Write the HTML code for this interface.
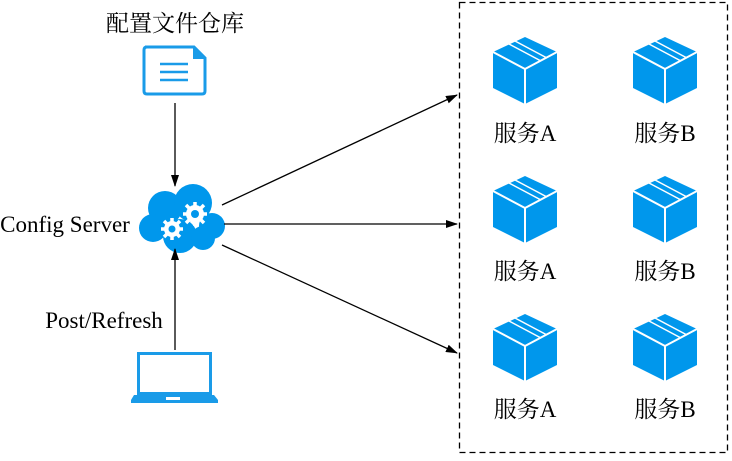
<!DOCTYPE html>
<html><head><meta charset="utf-8"><style>
body{margin:0;background:#fff}
svg text{font-family:"Liberation Serif","Noto Serif CJK SC",serif;font-size:23px;fill:#000}
</style></head><body>
<svg width="732" height="456" viewBox="0 0 732 456" xmlns="http://www.w3.org/2000/svg">
<defs>
<marker id="a" markerWidth="12" markerHeight="8" refX="11" refY="4" orient="auto" markerUnits="userSpaceOnUse"><path d="M0,0L12,4L0,8z" fill="#000"/></marker>
<g id="cube">
<path d="M-32,15L0,0L32,15L32,51L0,67L-32,51z" fill="#0097ec"/>
<path d="M-32,15L0,32L32,15M0,32V67" stroke="#fff" stroke-width="2" fill="none"/>
<path d="M-16,7L16,24M-10,4L22,21" stroke="#fff" stroke-width="1.5" fill="none"/>
</g>
</defs>
<text x="175" y="31" text-anchor="middle">配置文件仓库</text>
<path d="M145,47H194L205,58V91Q205,94 202,94H147Q144,94 144,91V50Q144,47 147,47z" fill="none" stroke="#1a9be8" stroke-width="3"/>
<path d="M193,47L205,59H193z" fill="#1a9be8"/>
<path d="M160,64H188M160,72H188M160,80H188" stroke="#1a9be8" stroke-width="2.5"/>
<line x1="175" y1="103" x2="175" y2="186" stroke="#000" stroke-width="1.3" marker-end="url(#a)"/>
<g fill="#0097ec">
<circle cx="165" cy="208" r="17"/><circle cx="193" cy="203" r="19"/><circle cx="212" cy="226" r="13"/>
<circle cx="153" cy="228" r="14"/><circle cx="180" cy="236" r="17"/><circle cx="203" cy="238" r="12"/>
</g>
<g fill="#fff">
<circle cx="172" cy="229" r="8"/><circle cx="195" cy="214" r="9"/>
</g>
<g stroke="#fff" stroke-width="3.5">
<path d="M172,218V240M161,229H183M164,221L180,237M180,221L164,237"/>
<path d="M195,202V226M183,214H207M186,205L204,223M204,205L186,223"/>
</g>
<g fill="#0097ec"><circle cx="172" cy="229" r="3.5"/><circle cx="195" cy="214" r="4"/></g>
<text x="65" y="232" text-anchor="middle">Config Server</text>
<text x="104" y="328" text-anchor="middle">Post/Refresh</text>
<line x1="175" y1="350" x2="175" y2="249" stroke="#000" stroke-width="1.3" marker-end="url(#a)"/>
<rect x="138.5" y="353.5" width="72" height="40" fill="none" stroke="#1a9be8" stroke-width="3"/>
<path d="M134,395H214L218,400V403H131V400z" fill="#1a9be8"/>
<rect x="166" y="397" width="14" height="3" fill="#fff"/>
<g stroke="#000" stroke-width="1.3" marker-end="url(#a)">
<line x1="222" y1="205" x2="457" y2="95"/>
<line x1="224" y1="224" x2="457" y2="224"/>
<line x1="222" y1="245" x2="457" y2="353"/>
</g>
<rect x="459.5" y="2.5" width="268" height="450" fill="none" stroke="#000" stroke-width="1.3" stroke-dasharray="6,4"/>
<use href="#cube" x="525" y="37"/><use href="#cube" x="665" y="37"/>
<use href="#cube" x="525" y="176"/><use href="#cube" x="665" y="176"/>
<use href="#cube" x="525" y="314"/><use href="#cube" x="665" y="314"/>
<g text-anchor="middle">
<text x="525" y="141">服务A</text><text x="665" y="141">服务B</text>
<text x="525" y="279">服务A</text><text x="665" y="279">服务B</text>
<text x="525" y="417">服务A</text><text x="665" y="417">服务B</text>
</g>
</svg>
</body></html>
